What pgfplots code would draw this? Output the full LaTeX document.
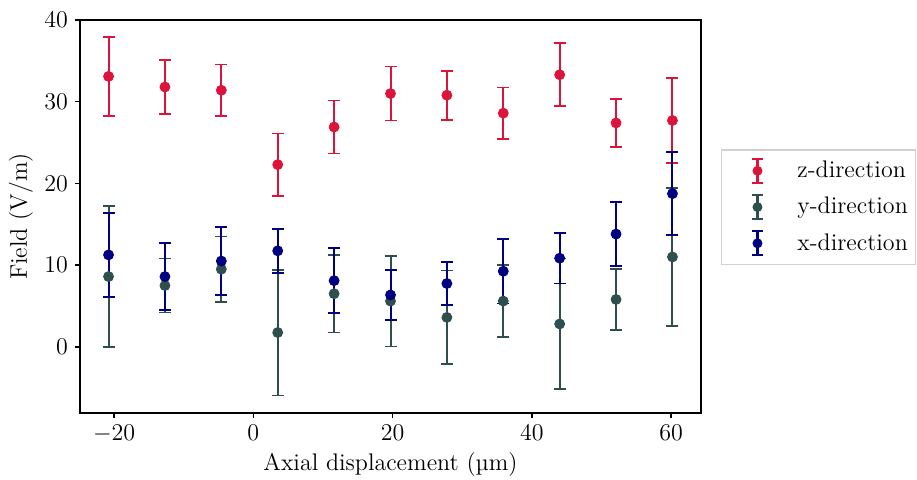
\documentclass[border=0pt]{standalone}
\usepackage{fontspec}
\usepackage{pgfplots}
\usepackage{pgfplotstable}
\pgfplotsset{compat=1.18}
\definecolor{zc}{HTML}{DC143C}
\definecolor{yc}{HTML}{2F4F4F}
\definecolor{xc}{HTML}{000080}
\pgfplotstableread{
x y e
-20.8 33.1 4.8
-12.7 31.8 3.3
-4.6 31.4 3.15
3.5 22.3 3.8
11.6 26.9 3.25
19.7 31.0 3.3
27.8 30.8 3.0
35.9 28.6 3.15
44.0 33.3 3.85
52.1 27.4 2.95
60.2 27.7 5.2
}\zdata
\pgfplotstableread{
x y e
-20.8 8.6 8.6
-12.7 7.5 3.3
-4.6 9.5 4.0
3.5 1.75 7.7
11.6 6.5 4.75
19.7 5.6 5.55
27.8 3.6 5.75
35.9 5.6 4.4
44.0 2.8 8.0
52.1 5.8 3.7
60.2 11.0 8.45
}\ydata
\pgfplotstableread{
x y e
-20.8 11.25 5.15
-12.7 8.6 4.1
-4.6 10.5 4.2
3.5 11.75 2.7
11.6 8.1 3.95
19.7 6.35 3.1
27.8 7.75 2.6
35.9 9.25 3.95
44.0 10.85 3.1
52.1 13.8 3.9
60.2 18.75 5.05
}\xdata
\newcommand{\legimg}[1]{%
  \path[draw=none, fill=none] (0pt,-6pt) rectangle (34pt,6pt);
  \fill[#1, draw=none] (15.4pt,-6pt) rectangle (16.6pt,6pt);
  \fill[#1, draw=none] (13.3pt,-6.45pt) rectangle (18.7pt,-5.55pt);
  \fill[#1, draw=none] (13.3pt,5.55pt) rectangle (18.7pt,6.45pt);
  \fill[#1, draw=none] (16pt,0pt) circle (2.5pt);}
\begin{document}
\begin{tikzpicture}[font=\fontsize{12}{14.4}\selectfont]
\begin{axis}[
  name=ax,
  scale only axis,
  width=310.5pt, height=196.5pt,
  xmin=-24.9, xmax=64.3,
  ymin=-8.1, ymax=40,
  xtick={-20,0,20,40,60},
  ytick={0,10,20,30,40},
  tick pos=left,
  tick align=outside,
  major tick length=2.5pt,
  axis line style={line width=0.75pt},
  tick style={line width=0.75pt, black},
  xlabel={Axial displacement (µm)},
  ylabel={Field (V/m)},
  xlabel style={at={(axis description cs:0.5,-0.1323)}, anchor=center},
  ylabel style={at={(axis description cs:-0.095,0.5)}, anchor=center},
  legend style={at={(1.032,0.524)}, anchor=west, draw=black!18, line width=0.6pt,
    row sep=4.3pt, inner xsep=2pt, inner ysep=3.5pt},
  legend cell align=left,
]
\addplot[only marks, mark=*, mark size=2.5pt, color=zc,
  error bars/.cd, y dir=both, y explicit,
  error bar style={line width=1pt, zc},
  error mark options={rotate=90, mark size=3pt, line width=0.9pt, zc},
  /pgfplots/legend image code/.code={\legimg{zc}}]
  table[x=x, y=y, y error=e] {\zdata};
\addlegendentry{z-direction}
\addplot[only marks, mark=*, mark size=2.5pt, color=yc,
  error bars/.cd, y dir=both, y explicit,
  error bar style={line width=1pt, yc},
  error mark options={rotate=90, mark size=3pt, line width=0.9pt, yc},
  /pgfplots/legend image code/.code={\legimg{yc}}]
  table[x=x, y=y, y error=e] {\ydata};
\addlegendentry{y-direction}
\addplot[only marks, mark=*, mark size=2.5pt, color=xc,
  error bars/.cd, y dir=both, y explicit,
  error bar style={line width=1pt, xc},
  error mark options={rotate=90, mark size=3pt, line width=0.9pt, xc},
  /pgfplots/legend image code/.code={\legimg{xc}}]
  table[x=x, y=y, y error=e] {\xdata};
\addlegendentry{x-direction}
\end{axis}
\pgfresetboundingbox
\path[use as bounding box] ([xshift=-40pt,yshift=-33pt]ax.south west) rectangle ([xshift=108pt,yshift=10pt]ax.north east);
\end{tikzpicture}
\end{document}
